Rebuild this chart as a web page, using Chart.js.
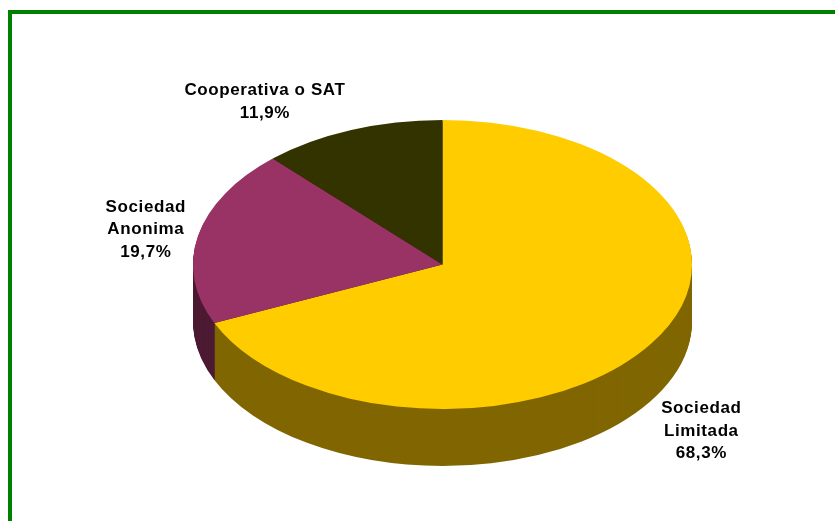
<!DOCTYPE html>
<html><head><meta charset="utf-8">
<script src="https://cdn.jsdelivr.net/npm/chart.js@4.4.0/dist/chart.umd.min.js"></script>
<style>
html,body{margin:0;padding:0;width:835px;height:521px;overflow:hidden;background:#fff}
#frame{position:absolute;left:8px;top:10px;width:900px;height:600px;border-left:4px solid #008000;border-top:4px solid #008000;}
#wrap{position:absolute;left:0;top:0;width:835px;height:521px}
</style></head><body>
<div id="frame"></div>
<div id="wrap"><canvas id="c" width="835" height="521"></canvas></div>
<script>
const categories = ["Sociedad Limitada", "Sociedad Anonima", "Cooperativa o SAT"];
const labelLines = [["Sociedad", "Limitada"], ["Sociedad", "Anonima"], ["Cooperativa o SAT"]];
const shares = [68.3, 19.7, 11.9];
const percentLabels = ["68,3%", "19,7%", "11,9%"];

const topColors = ["#FFCC00", "#993366", "#333300"];
const sideColors = ["#806600", "#4D1A33", "#1A1A00"];
const tilt = 144.5 / 249.5;
const depth = 57;
const labelNudge = [[-13, 7], [21, 3], [-59, 12]];

const pie3d = {
  id: 'pie3d',
  beforeDatasetsDraw(chart) {
    const ctx = chart.ctx;
    const arcs = chart.getDatasetMeta(0).data;
    const cy = arcs[0].y;
    ctx.save();
    ctx.translate(0, cy); ctx.scale(1, tilt); ctx.translate(0, -cy);
    for (let d = depth; d >= 1; d--) {
      arcs.forEach((a, i) => {
        const yy = a.y + d / tilt;
        ctx.beginPath();
        ctx.moveTo(a.x, yy);
        ctx.arc(a.x, yy, a.outerRadius, a.startAngle, a.endAngle);
        ctx.closePath();
        ctx.fillStyle = sideColors[i];
        ctx.fill();
      });
    }
  },
  afterDatasetsDraw(chart) {
    const ctx = chart.ctx;
    ctx.restore();
    const arcs = chart.getDatasetMeta(0).data;
    ctx.save();
    ctx.font = 'bold 17px "Liberation Sans", Arial, sans-serif';
    ctx.letterSpacing = '0.6px';
    ctx.fillStyle = '#000';
    ctx.textAlign = 'center';
    ctx.textBaseline = 'middle';
    arcs.forEach((a, i) => {
      const mid = (a.startAngle + a.endAngle) / 2;
      const r = a.outerRadius * 1.3;
      let x = a.x + Math.cos(mid) * r;
      let y = a.y + Math.sin(mid) * r * tilt;
      if (Math.sin(mid) > 0) y += depth;
      x += labelNudge[i][0]; y += labelNudge[i][1];
      const lines = labelLines[i].concat([percentLabels[i]]);
      const lh = 22.5;
      lines.forEach((t, j) => {
        ctx.fillText(t, x, y + (j - (lines.length - 1) / 2) * lh);
      });
    });
    ctx.restore();
  }
};

new Chart(document.getElementById('c'), {
  type: 'pie',
  data: {
    labels: categories,
    datasets: [{
      data: shares,
      backgroundColor: topColors,
      hoverBackgroundColor: topColors,
      borderWidth: 0,
      hoverOffset: 0,
      offset: 0
    }]
  },
  options: {
    responsive: false,
    animation: false,
    devicePixelRatio: 1,
    events: [],
    layout: { padding: { left: 193, right: 143, top: 15, bottom: 7 } },
    plugins: { legend: { display: false }, tooltip: { enabled: false } }
  },
  plugins: [pie3d]
});
</script>
</body></html>
